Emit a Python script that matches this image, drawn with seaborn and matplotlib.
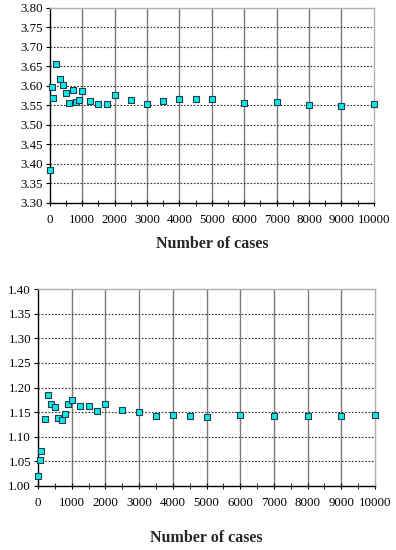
import numpy as np
import pandas as pd
import matplotlib
matplotlib.use("Agg")
import matplotlib.pyplot as plt
import seaborn as sns
from matplotlib.ticker import MultipleLocator, FormatStrFormatter

# number of cases (same for both panels)
cases = [10, 50, 100, 200, 300, 400, 500, 600, 700, 800, 900, 1000,
         1250, 1500, 1750, 2000, 2500, 3000, 3500, 4000, 4500, 5000,
         6000, 7000, 8000, 9000, 10000]

top_vals = [3.385, 3.598, 3.570, 3.656, 3.619, 3.602, 3.581, 3.556, 3.590,
            3.559, 3.565, 3.587, 3.562, 3.553, 3.555, 3.576, 3.564, 3.553,
            3.562, 3.566, 3.567, 3.566, 3.556, 3.559, 3.551, 3.549, 3.553]

bottom_vals = [1.021, 1.053, 1.071, 1.137, 1.184, 1.167, 1.161, 1.138, 1.134,
               1.147, 1.166, 1.174, 1.163, 1.162, 1.153, 1.166, 1.155, 1.151,
               1.143, 1.144, 1.143, 1.1405, 1.145, 1.142, 1.143, 1.142, 1.144]

sns.set_style("white")
plt.rcParams['font.family'] = ['Liberation Serif', 'DejaVu Serif']

df = pd.DataFrame({'cases': cases, 'top': top_vals, 'bottom': bottom_vals})

fig = plt.figure(figsize=(3.96, 5.5), dpi=100)
ax1 = fig.add_axes([0.126, 0.631, 0.818, 0.3545])
ax2 = fig.add_axes([0.096, 0.1164, 0.851, 0.3581])


def style_axis(ax, ylim, xlabel_pad):
    ax.set_xlim(0, 10000)
    ax.set_ylim(*ylim)
    ax.xaxis.set_major_locator(MultipleLocator(1000))
    ax.xaxis.set_minor_locator(MultipleLocator(500))
    ax.yaxis.set_major_locator(MultipleLocator(0.05))
    ax.yaxis.set_major_formatter(FormatStrFormatter('%.2f'))
    ax.grid(False)
    for v in np.arange(1000, 10000, 1000):
        ax.axvline(v, color='#7a7a7a', lw=1.0, zorder=0)
    for h in np.arange(ylim[0] + 0.05, ylim[1] - 0.001, 0.05):
        ax.axhline(h, color='#333333', lw=0.8, ls=(0, (1.5, 1.5)), zorder=0)
    for s in ['top', 'right']:
        ax.spines[s].set_color('#b0b0b0')
        ax.spines[s].set_linewidth(1.0)
    for s in ['left', 'bottom']:
        ax.spines[s].set_color('black')
        ax.spines[s].set_linewidth(1.0)
    ax.tick_params(axis='both', which='both', labelsize=9.3,
                   colors='black', left=True, bottom=True)
    ax.tick_params(axis='x', which='both', direction='inout', length=4)
    ax.tick_params(axis='x', which='major', pad=6)
    ax.tick_params(axis='y', direction='out', length=3, pad=2)
    ax.set_xlabel('Number of cases', fontsize=11.5, fontweight='bold',
                  labelpad=xlabel_pad)
    ax.set_ylabel('')


sns.scatterplot(data=df, x='cases', y='top', ax=ax1, marker='s', s=22,
                color='#10e8e8', edgecolor='#1f3f4f', linewidth=0.8,
                zorder=3, clip_on=False)
style_axis(ax1, (3.30, 3.80), 7.5)

sns.scatterplot(data=df, x='cases', y='bottom', ax=ax2, marker='s', s=22,
                color='#10e8e8', edgecolor='#1f3f4f', linewidth=0.8,
                zorder=3, clip_on=False)
style_axis(ax2, (1.00, 1.40), 15)

fig.savefig('out.png', dpi=100, facecolor='white')
